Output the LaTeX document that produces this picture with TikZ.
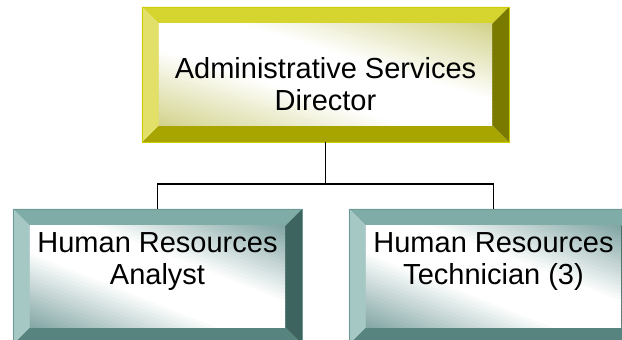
\documentclass[tikz,border=0pt]{standalone}
\usepackage{fontspec}
\setmainfont{Liberation Sans}
\usetikzlibrary{calc}
\definecolor{gold-top}{RGB}{214,212,46}
\definecolor{gold-left}{RGB}{226,224,104}
\definecolor{gold-right}{RGB}{122,122,0}
\definecolor{gold-bot}{RGB}{168,164,0}
\definecolor{gold-edge}{RGB}{204,204,0}
\definecolor{gold-shade}{RGB}{206,206,128}
\definecolor{sea-top}{RGB}{128,172,168}
\definecolor{sea-left}{RGB}{166,200,196}
\definecolor{sea-right}{RGB}{62,100,96}
\definecolor{sea-bot}{RGB}{88,132,128}
\definecolor{sea-edge}{RGB}{110,152,148}
\definecolor{sea-shade}{RGB}{116,156,154}

\newcommand{\bev}{17}
% #1 box node, #2 colour set, #3/#4 half width/height of the face
\newcommand{\bevelbox}[4]{%
    \fill[#2-top] (#1.north west) -- (#1.north east) -- ($(#1.north east)+(-\bev,-\bev)$) -- ($(#1.north west)+(\bev,-\bev)$) -- cycle;
    \fill[#2-bot] (#1.south west) -- (#1.south east) -- ($(#1.south east)+(-\bev,\bev)$) -- ($(#1.south west)+(\bev,\bev)$) -- cycle;
    \fill[#2-left] (#1.north west) -- (#1.south west) -- ($(#1.south west)+(\bev,\bev)$) -- ($(#1.north west)+(\bev,-\bev)$) -- cycle;
    \fill[#2-right] (#1.north east) -- (#1.south east) -- ($(#1.south east)+(-\bev,\bev)$) -- ($(#1.north east)+(-\bev,-\bev)$) -- cycle;
    \begin{scope}
        \clip ($(#1.north west)+(\bev,-\bev)$) rectangle ($(#1.south east)+(-\bev,\bev)$);
        \begin{scope}[shift={(#1.center)}, xscale=#3, yscale=#4]
            \foreach \s in {-1.45,-1.40,...,1.46}{
                \pgfmathsetmacro{\shadepct}{min(100,max(0,(abs(\s)-0.35)*85))}
                \fill[#2-shade!\shadepct!white, rotate=45] (\s-0.035,-2) rectangle (\s+0.035,2);
            }
        \end{scope}
    \end{scope}
    \draw[#2-edge, thin] (#1.north west) rectangle (#1.south east);
}

\begin{document}
\begin{tikzpicture}[x=1pt, y=1pt,
    orgbox/.style={minimum width=289pt, minimum height=135pt, inner sep=0pt},
    orgtext/.style={align=center, inner sep=0pt, font=\fontsize{29}{32}\selectfont}]

    \useasboundingbox (0,0) rectangle (622,-340);
    \clip (0,0) rectangle (622,-340);

    \node[orgbox, minimum width=367pt] (dirbox) at (325.5,-74.5) {};
    \node[orgbox] (anbox) at (157.5,-276.5) {};
    \node[orgbox] (techbox) at (493.5,-276.5) {};

    \bevelbox{dirbox}{gold}{166.5}{50.5}
    \bevelbox{anbox}{sea}{127.5}{50.5}
    \bevelbox{techbox}{sea}{127.5}{50.5}

    \node[orgtext] (dirtext) at (325.5,-84) {Administrative Services\\Director};
    \node[orgtext] (antext) at (157.5,-262) {Human Resources\\Analyst};
    \node[orgtext] (techtext) at (493.5,-262) {Human Resources\\Technician (3)};

    % connectors
    \coordinate (bus) at (325.5,-184);
    \draw[line width=1.5pt] (dirbox.south) -- (bus);
    \draw[line width=1.5pt] (anbox.north) |- (bus) -| (techbox.north);

\end{tikzpicture}
\end{document}
